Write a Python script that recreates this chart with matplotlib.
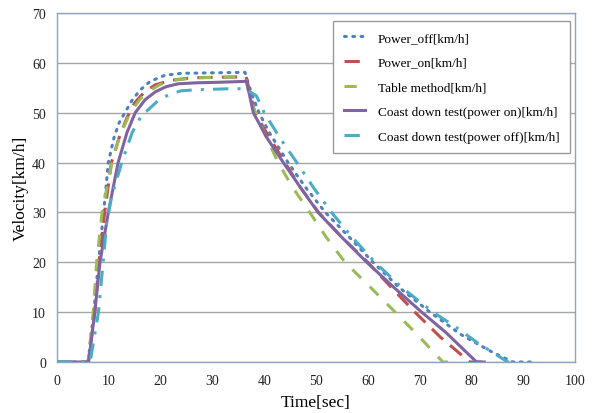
import matplotlib
matplotlib.use("Agg")
import matplotlib.pyplot as plt

# Power_off [km/h] (blue dotted)
t_off = [0, 6, 7.1, 8, 9, 9.9, 11, 12, 13.1, 14.5, 16, 18, 20.8, 24, 30, 36.3,
         37.5, 39, 41, 44.6, 48, 51.8, 56, 61, 66, 72, 78, 84, 88, 92]
v_off = [0, 0, 10, 20, 30, 40, 45, 48, 50, 52.5, 54.5, 56.3, 57.5, 57.9, 58, 58.1,
         54, 50, 46, 40, 35, 30, 25.5, 20, 15, 10, 5.5, 2, 0, 0]

# Power_on [km/h] (red dashed)
t_on = [0, 6, 7.3, 8.1, 9.2, 10.5, 12, 13.5, 15, 17, 19, 22, 26, 30, 36.5,
        38.2, 41, 44, 47, 50.5, 55, 60, 64.5, 69.1, 74, 79.7, 82]
v_on = [0, 0, 10, 20, 30, 40, 45, 49, 52, 54.3, 55.6, 56.5, 57, 57.1, 57.2,
        50, 45, 40, 35, 30, 25, 20, 15, 10, 5, 0, 0]

# Table method [km/h] (green dashed)
t_tab = [0, 6, 7.0, 7.65, 8.7, 10.6, 12, 14.1, 16, 18, 20, 23, 27, 32, 36.3,
         37.5, 40, 42.7, 45.5, 48.8, 52, 55.6, 60.5, 65.3, 70, 74.5, 77]
v_tab = [0, 0, 10, 20, 30, 40, 45, 50, 52.7, 54.5, 55.7, 56.6, 57, 57.1, 57.2,
         52, 46, 40, 35, 30, 25, 20, 15, 10, 5, 0, 0]

# Coast down test (power on) [km/h] (purple solid)
t_cdon = [0, 6.1, 7.3, 8.3, 9.9, 11.8, 13.5, 15.1, 17, 19, 21, 23.4, 27, 31, 34, 36.6,
          37.9, 40.5, 43.7, 47, 50.4, 55, 59.8, 65, 70.4, 75, 79, 81, 82.5]
v_cdon = [0, 0, 10, 20, 30, 40, 46, 50, 52.6, 54.2, 55.2, 55.8, 56, 56.1, 56.2, 56.3,
          50, 45, 40, 35, 30, 25, 20, 15, 10, 6, 2, 0, 0]

# Coast down test (power off) [km/h] (cyan dash-dot)
t_cdoff = [0, 6.4, 8.0, 8.9, 9.6, 10.5, 12.5, 14.5, 16.6, 17.4, 19.8, 22, 24, 27, 30, 33, 36.3,
           38.5, 40, 43, 46.3, 49.5, 53, 57, 61.4, 66.5, 72.6, 77, 81, 84, 87, 88]
v_cdoff = [0, 0, 10, 20, 28, 33, 40, 46, 50, 50.4, 52.7, 53.8, 54.4, 54.6, 54.7, 54.8, 54.8,
           53.4, 50, 45, 40, 35, 30, 25, 20, 15, 10, 7, 4, 2, 0, 0]

labels = ["Power_off[km/h]", "Power_on[km/h]", "Table method[km/h]",
          "Coast down test(power on)[km/h]", "Coast down test(power off)[km/h]"]

x_ticks = [0, 10, 20, 30, 40, 50, 60, 70, 80, 90, 100]
y_ticks = [0, 10, 20, 30, 40, 50, 60, 70]

plt.rcParams['font.family'] = ['Liberation Serif', 'DejaVu Serif']

fig = plt.figure(figsize=(5.97, 4.14), dpi=100)
ax = fig.add_axes([0.0955, 0.1232, 0.8676, 0.843])

ax.plot(t_off, v_off, color='#4F81BD', lw=2.2, linestyle=(0, (0.6, 2.1)),
        dash_capstyle='round', label=labels[0])
ax.plot(t_on, v_on, color='#C0504D', lw=2.2, linestyle=(0, (5, 3)), label=labels[1])
ax.plot(t_tab, v_tab, color='#9BBB59', lw=2.2, linestyle=(0, (4, 4)), label=labels[2])
ax.plot(t_cdon, v_cdon, color='#8064A2', lw=2.2, linestyle='-', label=labels[3])
ax.plot(t_cdoff, v_cdoff, color='#4BACC6', lw=2.2, linestyle=(0, (5, 3, 1, 3)), label=labels[4])

ax.set_xlim(0, 100)
ax.set_ylim(0, 70)
ax.set_xticks(x_ticks)
ax.set_yticks(y_ticks)
ax.tick_params(length=0, labelsize=10, colors='#222222')
ax.tick_params(axis='x', pad=9)
ax.tick_params(axis='y', pad=8)
ax.yaxis.grid(True, color='#a6a6a6', lw=1)
ax.set_axisbelow(True)
for s in ax.spines.values():
    s.set_color('#8DA5C0')
    s.set_linewidth(1)

ax.set_xlabel('Time[sec]', fontsize=12.5, labelpad=5)
ax.set_ylabel('Velocity[km/h]', fontsize=12.5, labelpad=2)

leg = ax.legend(loc='upper right', bbox_to_anchor=(570 / 597, 1 - 22 / 414),
                bbox_transform=fig.transFigure, fontsize=9.5, frameon=True,
                fancybox=False, edgecolor='#9a9a9a', framealpha=1,
                labelspacing=0.95, handlelength=1.6, handletextpad=1.0,
                borderpad=0.8, borderaxespad=0)
leg.get_frame().set_linewidth(1)

fig.savefig('out.png', dpi=100)
